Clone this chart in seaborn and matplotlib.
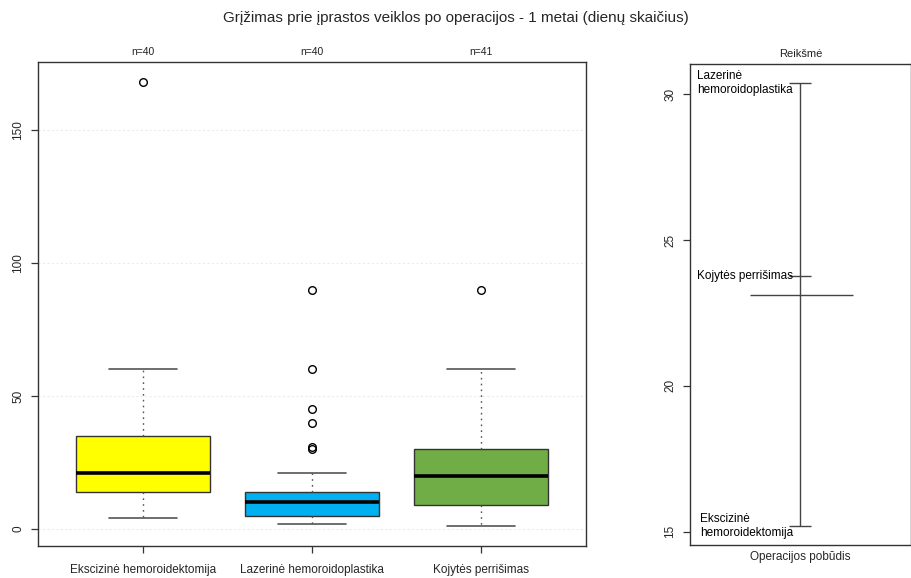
import matplotlib
matplotlib.use("Agg")
import matplotlib.pyplot as plt
import numpy as np
import pandas as pd
import seaborn as sns

# Operation types and summary statistics (days until return to normal activity)
groups = ["Ekscizinė hemoroidektomija", "Lazerinė hemoroidoplastika", "Kojytės perrišimas"]
counts = [40, 40, 41]
whisker_low = [4, 2, 1]
q1 = [14, 5, 9]
medians = [21, 10, 20]
q3 = [35, 14, 30]
whisker_high = [60, 21, 60]
outliers = [[168], [90, 60, 45, 40, 31, 30], [90]]
box_colors = ["#FFFF00", "#00B0F0", "#70AD47"]

# Group means for the design plot
mean_labels = ["Ekscizinė\nhemoroidektomija", "Lazerinė\nhemoroidoplastika", "Kojytės perrišimas"]
group_means = [15.2, 30.38, 23.77]
grand_mean = 23.1

sns.set_style("white")
plt.rcParams["font.family"] = ["Liberation Sans", "DejaVu Sans"]

fig = plt.figure(figsize=(9.12, 5.78), dpi=100)
W, H = 912, 578


def px_axes(x0, y0, x1, y1):
    return fig.add_axes([x0 / W, 1 - y1 / H, (x1 - x0) / W, (y1 - y0) / H])


# ---- Box plot ----
ax = px_axes(38, 62, 586, 546)
stats = []
for i, g in enumerate(groups):
    stats.append(dict(label=g, whislo=whisker_low[i], q1=q1[i], med=medians[i],
                      q3=q3[i], whishi=whisker_high[i], fliers=outliers[i]))
positions = np.arange(1, len(groups) + 1)
bp = ax.bxp(stats, positions=positions, widths=0.79, patch_artist=True,
            boxprops=dict(edgecolor="#333333", linewidth=1.0),
            medianprops=dict(color="black", linewidth=2.6, solid_capstyle="butt"),
            whiskerprops=dict(color="#555555", linewidth=1.0, linestyle=(0, (1.2, 3))),
            capprops=dict(color="#555555", linewidth=1.2),
            capwidths=0.4,
            flierprops=dict(marker="o", markersize=5.5, markerfacecolor="none",
                            markeredgecolor="black", markeredgewidth=1.0))
for patch, c in zip(bp["boxes"], box_colors):
    patch.set_facecolor(c)

for yv in [0, 50, 100, 150]:
    ax.axhline(yv, color="#ececec", linewidth=0.8, linestyle=(0, (2, 2)), zorder=0)

ax.set_xlim(0.38, 3.62)
ax.set_ylim(-6.4, 175.6)
ax.set_yticks([0, 50, 100, 150])
ax.set_yticklabels(["0", "50", "100", "150"], rotation=90, va="center", fontsize=8.5)
ax.set_xticks(positions)
ax.set_xticklabels(groups, fontsize=8.5)
ax.tick_params(axis="both", length=5, width=0.9, color="#333333", direction="out",
               bottom=True, left=True, pad=5)
ax.tick_params(axis="x", pad=8)
for s in ax.spines.values():
    s.set_color("#333333")
    s.set_linewidth(1.0)
for p, n in zip(positions, counts):
    ax.text(p, 1.01, f"n={n}", transform=ax.get_xaxis_transform(),
            ha="center", va="bottom", fontsize=7.5, color="#222222")

# ---- Design plot of group means ----
ax2 = px_axes(690, 64, 911, 545)
means_df = pd.DataFrame({"label": mean_labels, "mean": group_means, "x": [0.5] * 3})
ax2.vlines(0.5, min(group_means), max(group_means), color="#444444", linewidth=1.0)
sns.scatterplot(data=means_df, x="x", y="mean", marker="_", s=260, color="#444444",
                linewidth=1.0, ax=ax2, legend=False)
ax2.hlines(grand_mean, 0.27, 0.738, color="#444444", linewidth=1.0)
for lab, m in zip(mean_labels, group_means):
    ax2.text(0.466, m, lab, ha="right", va="center", multialignment="left",
             fontsize=8.5, color="black", linespacing=1.25)
ax2.set_xlim(0, 1)
ax2.set_ylim(14.55, 31.03)
ax2.set_xticks([])
ax2.set_yticks([15, 20, 25, 30])
ax2.set_yticklabels(["15", "20", "25", "30"], rotation=90, va="center", fontsize=8.5)
ax2.tick_params(axis="y", length=5, width=0.9, color="#333333", direction="out", left=True, pad=5)
ax2.set_xlabel("Operacijos pobūdis", fontsize=8.5, labelpad=4)
ax2.set_ylabel("")
ax2.set_title("Reikšmė", fontsize=8, pad=5, color="#222222")
for s in ax2.spines.values():
    s.set_color("#333333")
    s.set_linewidth(1.0)

fig.suptitle("Grįžimas prie įprastos veiklos po operacijos - 1 metai (dienų skaičius)",
             x=0.5, y=1 - 18 / H, va="center", fontsize=11)

fig.savefig("out.png", dpi=100, facecolor="white")
